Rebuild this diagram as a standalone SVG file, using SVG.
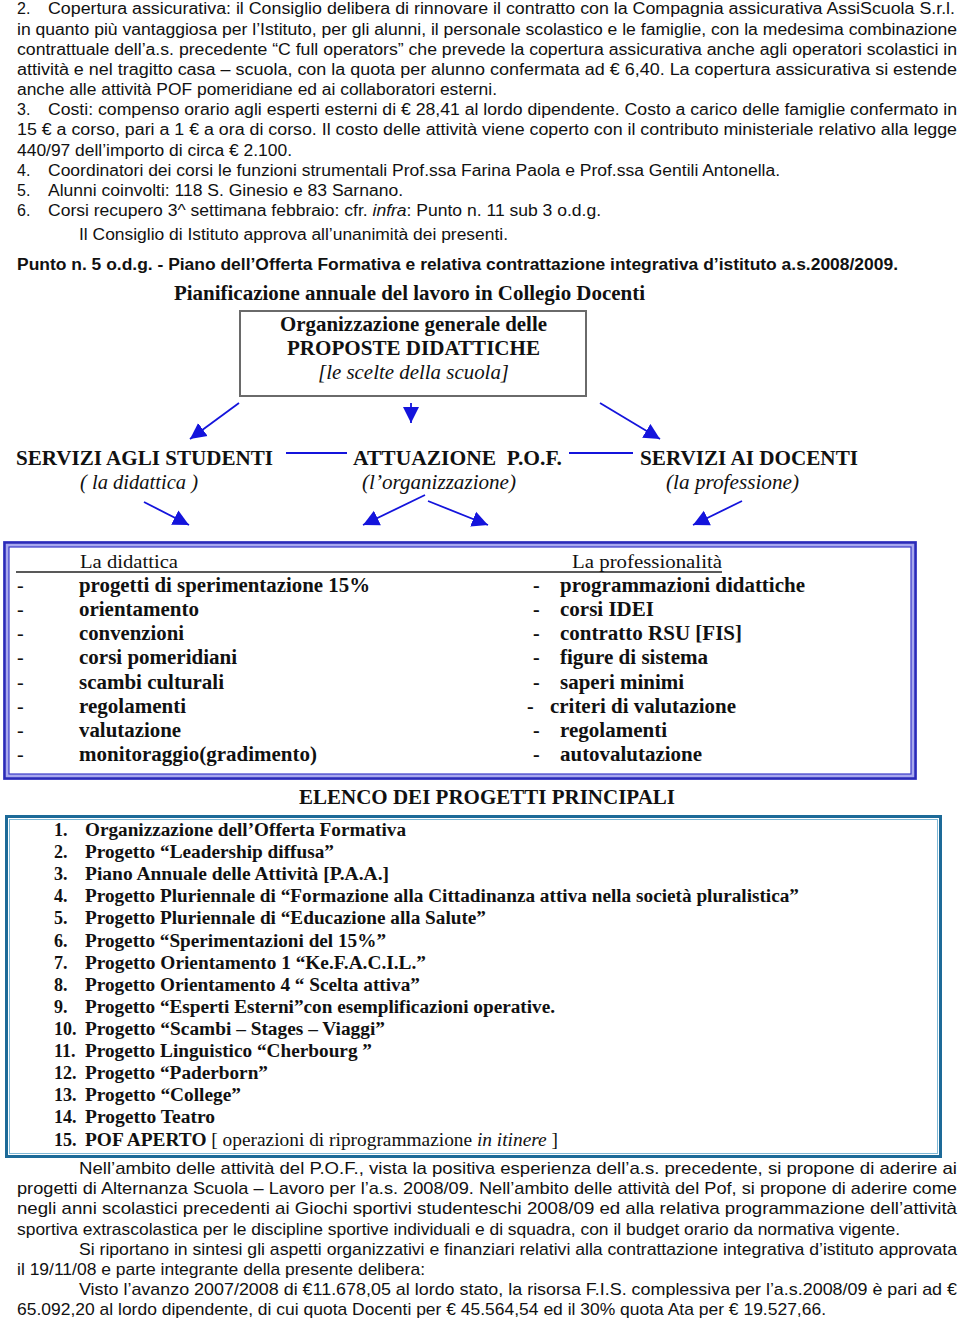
<svg xmlns="http://www.w3.org/2000/svg" width="960" height="1322" viewBox="0 0 960 1322">
<style>
.sans{font-family:"Liberation Sans",Arial,sans-serif;font-size:16px;fill:#111}
.narrow{font-family:"Liberation Sans",Arial,sans-serif;font-size:17px;fill:#111}
.bsans{font-family:"Liberation Sans",Arial,sans-serif;font-size:16px;font-weight:bold;fill:#111}
.ser{font-family:"Liberation Serif","Times New Roman",serif;fill:#111}
.h20{font-size:20px;font-weight:bold}
.h19{font-size:19px}
.it{font-style:italic;font-weight:normal}
.li{font-size:20px;font-weight:bold}
.pl{font-size:18px;font-weight:bold}
.conn{stroke:#1414DC;stroke-width:1.8;fill:none}
</style>
<defs>
<marker id="ah" viewBox="0 0 10 10" refX="10" refY="5" markerWidth="16" markerHeight="17" markerUnits="userSpaceOnUse" orient="auto">
<path d="M0,0 L10,5 L0,10 z" fill="#1414DC"/>
</marker>
</defs>
<rect width="960" height="1322" fill="#fff"/>

<g id="intro-text" class="sans">
<text x="17" y="14">2.</text>
<text x="48" y="14" textLength="907" lengthAdjust="spacingAndGlyphs">Copertura assicurativa: il Consiglio delibera di rinnovare il contratto con la Compagnia assicurativa AssiScuola S.r.l.</text>
<text x="17" y="35" textLength="940" lengthAdjust="spacingAndGlyphs">in quanto più vantaggiosa per l’Istituto, per gli alunni, il personale scolastico e le famiglie, con la medesima combinazione</text>
<text x="17" y="55" textLength="940" lengthAdjust="spacingAndGlyphs">contrattuale dell’a.s. precedente “C full operators” che prevede la copertura assicurativa anche agli operatori scolastici in</text>
<text x="17" y="75" textLength="940" lengthAdjust="spacingAndGlyphs">attività e nel tragitto casa – scuola, con la quota per alunno confermata ad € 6,40. La copertura assicurativa si estende</text>
<text x="17" y="95" textLength="480" lengthAdjust="spacingAndGlyphs">anche alle attività POF pomeridiane ed ai collaboratori esterni.</text>
<text x="17" y="115">3.</text>
<text x="48" y="115" textLength="909" lengthAdjust="spacingAndGlyphs">Costi: compenso orario agli esperti esterni di € 28,41 al lordo dipendente. Costo a carico delle famiglie confermato in</text>
<text x="17" y="135" textLength="940" lengthAdjust="spacingAndGlyphs">15 € a corso, pari a 1 € a ora di corso. Il costo delle attività viene coperto con il contributo ministeriale relativo alla legge</text>
<text x="17" y="156" textLength="275" lengthAdjust="spacingAndGlyphs">440/97 dell’importo di circa € 2.100.</text>
<text x="17" y="176">4.</text>
<text x="48" y="176" textLength="732" lengthAdjust="spacingAndGlyphs">Coordinatori dei corsi le funzioni strumentali Prof.ssa Farina Paola e Prof.ssa Gentili Antonella.</text>
<text x="17" y="196">5.</text>
<text x="48" y="196" textLength="355" lengthAdjust="spacingAndGlyphs">Alunni coinvolti: 118 S. Ginesio e 83 Sarnano.</text>
<text x="17" y="216">6.</text>
<text x="48" y="216" textLength="553" lengthAdjust="spacingAndGlyphs">Corsi recupero 3^ settimana febbraio: cfr. <tspan font-style="italic">infra</tspan>: Punto n. 11 sub 3 o.d.g.</text>
<text x="79" y="240" textLength="429" lengthAdjust="spacingAndGlyphs">Il Consiglio di Istituto approva all’unanimità dei presenti.</text>
</g>

<g id="punto-title">
<text class="bsans" x="17" y="270" textLength="881" lengthAdjust="spacingAndGlyphs">Punto n. 5 o.d.g. - Piano dell’Offerta Formativa e relativa contrattazione integrativa d’istituto a.s.2008/2009.</text>
</g>

<g id="plan-title">
<text class="ser h20" x="174" y="300" textLength="471" lengthAdjust="spacingAndGlyphs">Pianificazione annuale del lavoro in Collegio Docenti</text>
</g>

<g id="node-proposte">
<rect x="240" y="311" width="346" height="85" fill="#fff" stroke="#6a6a6a" stroke-width="2"/>
<text class="ser h20" x="280" y="331" textLength="267" lengthAdjust="spacingAndGlyphs">Organizzazione generale delle</text>
<text class="ser h20" x="287" y="355" textLength="253" lengthAdjust="spacingAndGlyphs">PROPOSTE DIDATTICHE</text>
<text class="ser h20 it" x="318" y="379" textLength="191" lengthAdjust="spacingAndGlyphs">[le scelte della scuola]</text>
</g>

<g id="node-studenti">
<text class="ser h20" x="16" y="465" textLength="257" lengthAdjust="spacingAndGlyphs">SERVIZI AGLI STUDENTI</text>
<text class="ser h20 it" x="80" y="489" textLength="118" lengthAdjust="spacingAndGlyphs">( la didattica )</text>
</g>

<g id="node-attuazione">
<text class="ser h20" x="353" y="465" textLength="209" lengthAdjust="spacingAndGlyphs" xml:space="preserve">ATTUAZIONE  P.O.F.</text>
<text class="ser h20 it" x="362" y="489" textLength="154" lengthAdjust="spacingAndGlyphs">(l’organizzazione)</text>
</g>

<g id="node-docenti">
<text class="ser h20" x="640" y="465" textLength="218" lengthAdjust="spacingAndGlyphs">SERVIZI AI DOCENTI</text>
<text class="ser h20 it" x="666" y="489" textLength="133" lengthAdjust="spacingAndGlyphs">(la professione)</text>
</g>

<g id="connectors">
<line class="conn" x1="239" y1="403" x2="190" y2="439" marker-end="url(#ah)"/>
<line class="conn" x1="411" y1="403" x2="411" y2="423" marker-end="url(#ah)"/>
<line class="conn" x1="600" y1="403" x2="660" y2="439" marker-end="url(#ah)"/>
<line class="conn" x1="286" y1="453" x2="347" y2="453"/>
<line class="conn" x1="569" y1="453" x2="633" y2="453"/>
<line class="conn" x1="144" y1="502" x2="189" y2="525" marker-end="url(#ah)"/>
<line class="conn" x1="425" y1="495" x2="363" y2="525" marker-end="url(#ah)"/>
<line class="conn" x1="428" y1="501" x2="488" y2="525" marker-end="url(#ah)"/>
<line class="conn" x1="742" y1="501" x2="693" y2="525" marker-end="url(#ah)"/>
</g>

<g id="node-didattica-professionalita">
<rect x="6" y="544" width="908" height="233" fill="none" stroke="#a8a8ee" stroke-width="6"/>
<rect x="4.5" y="542.5" width="911" height="236" fill="none" stroke="#2a2ab8" stroke-width="2.5"/>
<rect x="9" y="547" width="902" height="227" fill="#fff" stroke="#3a3ac8" stroke-width="1.2"/>
<line x1="16" y1="572" x2="722" y2="572" stroke="#222" stroke-width="1.3"/>
<text class="ser h19" x="80" y="568" textLength="98" lengthAdjust="spacingAndGlyphs">La didattica</text>
<text class="ser h19" x="572" y="568" textLength="150" lengthAdjust="spacingAndGlyphs">La professionalità</text>
<g class="ser li">
<text x="17" y="592" font-weight="normal">-</text><text x="79" y="592" textLength="291" lengthAdjust="spacingAndGlyphs">progetti di sperimentazione 15%</text>
<text x="17" y="616" font-weight="normal">-</text><text x="79" y="616" textLength="120" lengthAdjust="spacingAndGlyphs">orientamento</text>
<text x="17" y="640" font-weight="normal">-</text><text x="79" y="640" textLength="105" lengthAdjust="spacingAndGlyphs">convenzioni</text>
<text x="17" y="664" font-weight="normal">-</text><text x="79" y="664" textLength="158" lengthAdjust="spacingAndGlyphs">corsi pomeridiani</text>
<text x="17" y="689" font-weight="normal">-</text><text x="79" y="689" textLength="145" lengthAdjust="spacingAndGlyphs">scambi culturali</text>
<text x="17" y="713" font-weight="normal">-</text><text x="79" y="713" textLength="107" lengthAdjust="spacingAndGlyphs">regolamenti</text>
<text x="17" y="737" font-weight="normal">-</text><text x="79" y="737" textLength="102" lengthAdjust="spacingAndGlyphs">valutazione</text>
<text x="17" y="761" font-weight="normal">-</text><text x="79" y="761" textLength="238" lengthAdjust="spacingAndGlyphs">monitoraggio(gradimento)</text>
<text x="533" y="592">-</text><text x="560" y="592" textLength="245" lengthAdjust="spacingAndGlyphs">programmazioni didattiche</text>
<text x="533" y="616">-</text><text x="560" y="616" textLength="94" lengthAdjust="spacingAndGlyphs">corsi IDEI</text>
<text x="533" y="640">-</text><text x="560" y="640" textLength="182" lengthAdjust="spacingAndGlyphs">contratto RSU [FIS]</text>
<text x="533" y="664">-</text><text x="560" y="664" textLength="148" lengthAdjust="spacingAndGlyphs">figure di sistema</text>
<text x="533" y="689">-</text><text x="560" y="689" textLength="124" lengthAdjust="spacingAndGlyphs">saperi minimi</text>
<text x="527" y="713">-</text><text x="550" y="713" textLength="186" lengthAdjust="spacingAndGlyphs">criteri di valutazione</text>
<text x="533" y="737">-</text><text x="560" y="737" textLength="107" lengthAdjust="spacingAndGlyphs">regolamenti</text>
<text x="533" y="761">-</text><text x="560" y="761" textLength="142" lengthAdjust="spacingAndGlyphs">autovalutazione</text>
</g>
</g>

<g id="elenco-title">
<text class="ser h20" x="299" y="804" textLength="376" lengthAdjust="spacingAndGlyphs">ELENCO DEI PROGETTI PRINCIPALI</text>
</g>

<g id="node-elenco">
<rect x="6.5" y="816.5" width="934" height="340" fill="#fff" stroke="#1d6a98" stroke-width="3"/>
<rect x="9.5" y="819.5" width="928" height="334" fill="none" stroke="#7fb8d6" stroke-width="1"/>
<g class="ser pl">
<text x="54" y="836">1.</text><text x="85" y="836" textLength="321" lengthAdjust="spacingAndGlyphs">Organizzazione dell’Offerta Formativa</text>
<text x="54" y="858">2.</text><text x="85" y="858" textLength="249" lengthAdjust="spacingAndGlyphs">Progetto “Leadership diffusa”</text>
<text x="54" y="880">3.</text><text x="85" y="880" textLength="304" lengthAdjust="spacingAndGlyphs">Piano Annuale delle Attività [P.A.A.]</text>
<text x="54" y="902">4.</text><text x="85" y="902" textLength="714" lengthAdjust="spacingAndGlyphs">Progetto Pluriennale di “Formazione alla Cittadinanza attiva nella società pluralistica”</text>
<text x="54" y="924">5.</text><text x="85" y="924" textLength="401" lengthAdjust="spacingAndGlyphs">Progetto Pluriennale di “Educazione alla Salute”</text>
<text x="54" y="947">6.</text><text x="85" y="947" textLength="301" lengthAdjust="spacingAndGlyphs">Progetto “Sperimentazioni del 15%”</text>
<text x="54" y="969">7.</text><text x="85" y="969" textLength="341" lengthAdjust="spacingAndGlyphs">Progetto Orientamento 1 “Ke.F.A.C.I.L.”</text>
<text x="54" y="991">8.</text><text x="85" y="991" textLength="335" lengthAdjust="spacingAndGlyphs">Progetto Orientamento 4 “ Scelta attiva”</text>
<text x="54" y="1013">9.</text><text x="85" y="1013" textLength="470" lengthAdjust="spacingAndGlyphs">Progetto “Esperti Esterni”con esemplificazioni operative.</text>
<text x="54" y="1035">10.</text><text x="85" y="1035" textLength="300" lengthAdjust="spacingAndGlyphs">Progetto “Scambi – Stages – Viaggi”</text>
<text x="54" y="1057">11.</text><text x="85" y="1057" textLength="287" lengthAdjust="spacingAndGlyphs">Progetto Linguistico “Cherbourg ”</text>
<text x="54" y="1079">12.</text><text x="85" y="1079" textLength="183" lengthAdjust="spacingAndGlyphs">Progetto “Paderborn”</text>
<text x="54" y="1101">13.</text><text x="85" y="1101" textLength="156" lengthAdjust="spacingAndGlyphs">Progetto “College”</text>
<text x="54" y="1123">14.</text><text x="85" y="1123" textLength="130" lengthAdjust="spacingAndGlyphs">Progetto Teatro</text>
<text x="54" y="1146">15.</text><text x="85" y="1146" textLength="473" lengthAdjust="spacingAndGlyphs">POF APERTO <tspan font-weight="normal">[ operazioni di riprogrammazione </tspan><tspan font-weight="normal" font-style="italic">in itinere</tspan><tspan font-weight="normal"> ]</tspan></text>
</g>
</g>

<g id="closing-text" class="narrow">
<text x="79" y="1174" textLength="878" lengthAdjust="spacingAndGlyphs">Nell’ambito delle attività del P.O.F., vista la positiva esperienza dell’a.s. precedente, si propone di aderire ai</text>
<text x="17" y="1194" textLength="940" lengthAdjust="spacingAndGlyphs">progetti di Alternanza Scuola – Lavoro per l’a.s. 2008/09. Nell’ambito delle attività del Pof, si propone di aderire come</text>
<text x="17" y="1214" textLength="940" lengthAdjust="spacingAndGlyphs">negli anni scolastici precedenti ai Giochi sportivi studenteschi 2008/09 ed alla relativa programmazione dell’attività</text>
<text x="17" y="1235" textLength="883" lengthAdjust="spacingAndGlyphs">sportiva extrascolastica per le discipline sportive individuali e di squadra, con il budget orario da normativa vigente.</text>
<text x="79" y="1255" textLength="878" lengthAdjust="spacingAndGlyphs">Si riportano in sintesi gli aspetti organizzativi e finanziari relativi alla contrattazione integrativa d’istituto approvata</text>
<text x="17" y="1275" textLength="408" lengthAdjust="spacingAndGlyphs">il 19/11/08 e parte integrante della presente delibera:</text>
<text x="79" y="1295" textLength="878" lengthAdjust="spacingAndGlyphs">Visto l’avanzo 2007/2008 di €11.678,05 al lordo stato, la risorsa F.I.S. complessiva per l’a.s.2008/09 è pari ad €</text>
<text x="17" y="1315" textLength="809" lengthAdjust="spacingAndGlyphs">65.092,20 al lordo dipendente, di cui quota Docenti per € 45.564,54 ed il 30% quota Ata per € 19.527,66.</text>
</g>
</svg>
